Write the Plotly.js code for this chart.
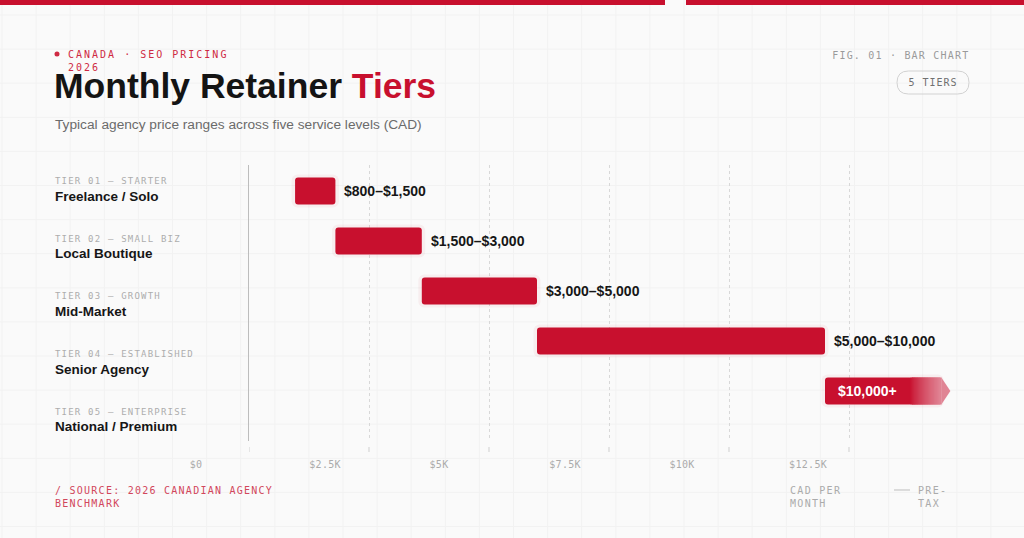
<!DOCTYPE html>
<html>
<head>
<meta charset="utf-8">
<script src="https://cdn.plot.ly/plotly-3.0.1.min.js"></script>
<style>
  html, body { margin: 0; padding: 0; background: #fafafa; }
  #chart { width: 1024px; height: 538px; }
</style>
</head>
<body>
<div id="chart"></div>
<script>
// tiers, top to bottom
var tierCodes = ['TIER 01 — STARTER', 'TIER 02 — SMALL BIZ', 'TIER 03 — GROWTH', 'TIER 04 — ESTABLISHED', 'TIER 05 — ENTERPRISE'];
var tierNames = ['Freelance / Solo', 'Local Boutique', 'Mid-Market', 'Senior Agency', 'National / Premium'];
var priceLow = [800, 1500, 3000, 5000, 10000];
var priceHigh = [1500, 3000, 5000, 10000, 12000]; // last tier is open ended, drawn out to 12000
var priceLabels = ['$800–$1,500', '$1,500–$3,000', '$3,000–$5,000', '$5,000–$10,000', '$10,000+'];
var tickLabels = ['$0', '$2.5K', '$5K', '$7.5K', '$10K', '$12.5K'];
var xMax = 12500;

// plot box in page pixels
var L = 249, R = 969, T = 165, B = 441;
function px(x) { return (x - L) / (R - L); }
function py(y) { return (B - y) / (B - T); }

var MONO = '"DejaVu Sans Mono", monospace';
var SANS = '"Liberation Sans", Arial, sans-serif';
var RED = '#c8102e';
var FADE = '#e08494';
var BARW = 0.54;

var rows = tierNames.map(function (_, i) { return i; });
var last = rows.length - 1;
var gridVals = tickLabels.map(function (_, k) { return k * xMax / tickLabels.length; });

function mix(a, b, t) {
  var ca = [1, 3, 5].map(function (i) { return parseInt(a.substr(i, 2), 16); });
  var cb = [1, 3, 5].map(function (i) { return parseInt(b.substr(i, 2), 16); });
  return 'rgb(' + ca.map(function (v, i) { return Math.round(v + (cb[i] - v) * t); }).join(',') + ')';
}

// closed ranges
var closedY = rows.slice(0, last);
var closedBase = priceLow.slice(0, last);
var closedLen = closedBase.map(function (v, i) { return priceHigh[i] - v; });

var shadow = {
  type: 'bar', orientation: 'h', y: rows,
  base: priceLow.map(function (v) { return v - 60; }),
  x: priceLow.map(function (v, i) { return priceHigh[i] - v + 120; }),
  width: BARW + 0.12,
  marker: { color: 'rgba(200,16,46,0.05)', cornerradius: 6, line: { width: 0 } },
  hoverinfo: 'skip'
};

var bars = {
  type: 'bar', orientation: 'h', y: closedY, base: closedBase, x: closedLen,
  width: BARW,
  marker: { color: RED, cornerradius: 3, line: { width: 0 } },
  hoverinfo: 'skip'
};

// open ended tier: solid part, then a fade, then an arrow tip
var fadeStart = priceLow[last] + 0.74 * (priceHigh[last] - priceLow[last]);
var openSolid = {
  type: 'bar', orientation: 'h', y: [last], base: [priceLow[last]], x: [fadeStart - priceLow[last] + 40],
  width: BARW,
  marker: { color: RED, cornerradius: 3, line: { width: 0 } },
  hoverinfo: 'skip'
};
var steps = 24, fy = [], fb = [], fx = [], fc = [];
var stepLen = (priceHigh[last] - fadeStart) / steps;
for (var s = 0; s < steps; s++) {
  fy.push(last);
  fb.push(fadeStart + s * stepLen);
  fx.push(stepLen + 25);
  fc.push(mix(RED, FADE, Math.pow((s + 0.5) / steps, 0.8)));
}
var openFade = {
  type: 'bar', orientation: 'h', y: fy, base: fb, x: fx, width: BARW,
  marker: { color: fc, line: { width: 0 } },
  hoverinfo: 'skip'
};
var tipLen = 9 / (R - L) * xMax;
var openTip = {
  type: 'scatter', mode: 'lines', fill: 'toself',
  x: [priceHigh[last] + 20, priceHigh[last] + 20 + tipLen, priceHigh[last] + 20, priceHigh[last] + 20],
  y: [last - BARW / 2, last, last + BARW / 2, last - BARW / 2],
  fillcolor: FADE, line: { width: 0, color: FADE },
  hoverinfo: 'skip'
};

var ann = [], spacing = [];
function note(o, sp) { ann.push(o); spacing.push(sp || 0); }
function pageText(text, x, y, size, color, family, extra, sp) {
  var o = {
    text: text, xref: 'paper', yref: 'paper', x: px(x), y: py(y),
    xanchor: 'left', yanchor: 'middle', align: 'left', showarrow: false, borderpad: 0,
    font: { family: family, size: size, color: color }
  };
  for (var k in extra) o[k] = extra[k];
  note(o, sp);
}

// header
pageText('CANADA · SEO PRICING<br>2026', 67, 60.5, 10, '#cf2a43', MONO, {}, 2);
pageText('Monthly Retainer <span style="color:' + RED + '">Tiers</span>', 53, 86, 35.5, '#141414', SANS,
  { font: { family: SANS, size: 35.5, color: '#141414', weight: 700 } });
pageText('Typical agency price ranges across five service levels (CAD)', 54, 124, 13.7, '#6b6b6b', SANS);
pageText('FIG. 01 · BAR CHART', 970, 55, 10, '#9a9a9a', MONO, { xanchor: 'right', align: 'right' }, 1.2);
pageText('5 TIERS', 933, 82.5, 10, '#707070', MONO, { xanchor: 'center', align: 'center' }, 1);

// tier labels on the left
var rowStep = 57.7;
rows.forEach(function (i) {
  pageText(tierCodes[i], 54, 181 + i * rowStep, 9, '#adadad', MONO, {}, 1.2);
  pageText(tierNames[i], 54, 196 + i * rowStep, 13.5, '#161616', SANS,
    { font: { family: SANS, size: 13.5, color: '#161616', weight: 700 } });
});

// range labels
rows.forEach(function (i) {
  var inside = i === last;
  note({
    text: priceLabels[i], xref: 'x', yref: 'y',
    x: inside ? priceLow[i] : priceHigh[i], y: i,
    xanchor: 'left', yanchor: 'middle', xshift: inside ? 11 : 7,
    showarrow: false,
    font: { family: SANS, size: 14, color: inside ? '#ffffff' : '#161616', weight: 700 }
  });
});

// axis labels (left edge of each grid cell, shifted)
tickLabels.forEach(function (t, k) {
  note({
    text: t, xref: 'x', yref: 'paper', x: gridVals[k], y: py(464),
    xanchor: 'left', yanchor: 'middle', xshift: -61, showarrow: false,
    font: { family: MONO, size: 10, color: '#ababab' }
  }, 0.3);
});

// footer
pageText('/ SOURCE: 2026 CANADIAN AGENCY<br>BENCHMARK', 54, 496.5, 10, '#d2475c', MONO, {}, 1.25);
pageText('CAD PER<br>MONTH', 789, 496.5, 10, '#ababab', MONO, {}, 1.3);
pageText('PRE-<br>TAX', 917, 496.5, 10, '#ababab', MONO, {}, 1.3);

var shapes = [];
// faint page grid
for (var gx = 2; gx < 1024; gx += 34.1) {
  shapes.push({ type: 'line', xref: 'paper', yref: 'paper', x0: px(gx), x1: px(gx), y0: py(0), y1: py(538),
    line: { color: '#f2f2f2', width: 1 }, layer: 'below' });
}
for (var gy = 15; gy < 538; gy += 34.1) {
  shapes.push({ type: 'line', xref: 'paper', yref: 'paper', x0: px(0), x1: px(1024), y0: py(gy), y1: py(gy),
    line: { color: '#f2f2f2', width: 1 }, layer: 'below' });
}
// top rule
shapes.push({ type: 'rect', xref: 'paper', yref: 'paper', x0: px(0), x1: px(665), y0: py(5), y1: py(0),
  fillcolor: RED, line: { width: 0 } });
shapes.push({ type: 'rect', xref: 'paper', yref: 'paper', x0: px(686), x1: px(1024), y0: py(5), y1: py(0),
  fillcolor: RED, line: { width: 0 } });
// eyebrow dot
shapes.push({ type: 'circle', xref: 'paper', yref: 'paper', x0: px(54.5), x1: px(59.5), y0: py(56.5), y1: py(51.5),
  fillcolor: '#cf2a43', line: { width: 0 } });
// pill
function pill(x0, y0, x1, y1, r) {
  function p(x, y) { return px(x) + ',' + py(y); }
  return 'M' + p(x0 + r, y0) + ' L' + p(x1 - r, y0) + ' Q' + p(x1, y0) + ' ' + p(x1, y0 + r) +
    ' L' + p(x1, y1 - r) + ' Q' + p(x1, y1) + ' ' + p(x1 - r, y1) +
    ' L' + p(x0 + r, y1) + ' Q' + p(x0, y1) + ' ' + p(x0, y1 - r) +
    ' L' + p(x0, y0 + r) + ' Q' + p(x0, y0) + ' ' + p(x0 + r, y0) + ' Z';
}
shapes.push({ type: 'path', xref: 'paper', yref: 'paper', path: pill(897, 71, 969, 94, 11.5),
  line: { color: '#d2d2d2', width: 1 }, fillcolor: 'rgba(0,0,0,0)' });
// small ticks under the grid
gridVals.forEach(function (v) {
  shapes.push({ type: 'line', xref: 'x', yref: 'paper', x0: v, x1: v, y0: py(452), y1: py(447),
    line: { color: '#cfcfcf', width: 1 } });
});
// footer dash
shapes.push({ type: 'line', xref: 'paper', yref: 'paper', x0: px(894), x1: px(910), y0: py(490), y1: py(490),
  line: { color: '#bdbdbd', width: 1 } });

var layout = {
  width: 1024, height: 538,
  margin: { l: L, r: 1024 - R, t: T, b: 538 - B, pad: 0 },
  paper_bgcolor: '#fafafa', plot_bgcolor: 'rgba(0,0,0,0)',
  showlegend: false, barmode: 'overlay',
  xaxis: {
    range: [0, xMax], tickvals: gridVals, showticklabels: false, ticks: '',
    showgrid: true, gridcolor: '#d8d8d8', griddash: 'dot', gridwidth: 1,
    zeroline: false, showline: false, fixedrange: true
  },
  yaxis: {
    range: [rows.length, -0.52], showgrid: false, zeroline: false, showticklabels: false,
    showline: true, linecolor: '#bdbdbd', linewidth: 1, ticks: '', fixedrange: true
  },
  annotations: ann,
  shapes: shapes
};

Plotly.newPlot('chart', [shadow, bars, openSolid, openFade, openTip], layout, { staticPlot: true }).then(function (gd) {
  spacing.forEach(function (sp, i) {
    if (!sp) return;
    var t = gd.querySelector('.annotation[data-index="' + i + '"] .annotation-text');
    if (t) t.style.letterSpacing = sp + 'px';
  });
});
</script>
</body>
</html>
